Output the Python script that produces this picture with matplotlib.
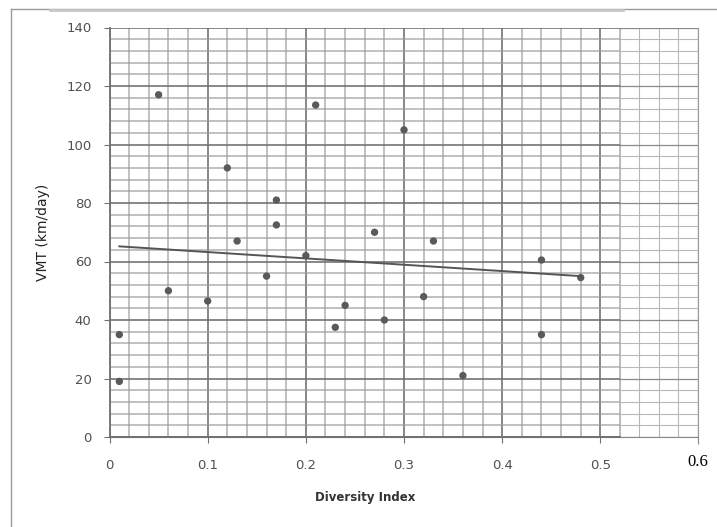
import numpy as np
import matplotlib
matplotlib.use("Agg")
import matplotlib.pyplot as plt
from matplotlib.ticker import MultipleLocator
from matplotlib.lines import Line2D

# diversity index vs VMT
diversity = [0.01, 0.01, 0.05, 0.06, 0.10, 0.12, 0.13, 0.16, 0.17, 0.17,
             0.20, 0.21, 0.23, 0.24, 0.27, 0.28, 0.30, 0.32, 0.33, 0.36,
             0.44, 0.44, 0.48]
vmt = [35, 19, 117, 50, 46.5, 92, 67, 55, 81, 72.5,
       62, 113.5, 37.5, 45, 70, 40, 105, 48, 67, 21,
       60.5, 35, 54.5]
x_ticks = [0, 0.1, 0.2, 0.3, 0.4, 0.5]
x_labels = ["0", "0.1", "0.2", "0.3", "0.4", "0.5"]
y_ticks = [0, 20, 40, 60, 80, 100, 120, 140]

W, H = 717, 527
fig = plt.figure(figsize=(W / 100, H / 100), dpi=100)

def px_box(x0, x1, y_top, y_bot):
    return [x0 / W, 1 - y_bot / H, (x1 - x0) / W, (y_bot - y_top) / H]

# outer frame lines
fig.add_artist(Line2D([11 / W, 11 / W], [0, 1 - 9 / H], color="#9a9a9a", lw=1.0))
fig.add_artist(Line2D([11 / W, 1], [1 - 9 / H, 1 - 9 / H], color="#9a9a9a", lw=1.0))
fig.add_artist(Line2D([50 / W, 623 / W], [1 - 9.5 / H, 1 - 9.5 / H], color="#c8c8c8", lw=2.0))

# background axes: the lighter grid that runs out to 0.6
bg = fig.add_axes(px_box(109.5, 698, 27.5, 437))
bg.set_xlim(0, 0.6)
bg.set_ylim(0, 140)
bg.xaxis.set_major_locator(MultipleLocator(0.1))
bg.xaxis.set_minor_locator(MultipleLocator(0.02))
bg.yaxis.set_major_locator(MultipleLocator(20))
bg.yaxis.set_minor_locator(MultipleLocator(4))
bg.grid(which="major", color="#8a8a8a", lw=0.9)
bg.grid(which="minor", color="#b8b8b8", lw=0.8)
for s in ("left", "top"):
    bg.spines[s].set_visible(False)
bg.spines["right"].set_color("#9a9a9a")
bg.spines["bottom"].set_color("#8a8a8a")
bg.set_xticks([0.6])
bg.set_xticklabels(["0.6"], family="Liberation Serif", fontsize=12)
bg.tick_params(axis="y", which="both", length=0, labelleft=False)
bg.tick_params(axis="x", which="major", length=5, color="#8a8a8a", pad=7)
bg.tick_params(axis="x", which="minor", length=0)

# main (scanned) chart area
ax = fig.add_axes(px_box(109.5, 620, 27.5, 437))
ax.set_facecolor("white")
ax.set_xlim(0, 0.52)
ax.set_ylim(0, 140)
ax.xaxis.set_minor_locator(MultipleLocator(0.02))
ax.yaxis.set_minor_locator(MultipleLocator(4))
ax.set_xticks(x_ticks)
ax.set_xticklabels(x_labels)
ax.set_yticks(y_ticks)
ax.grid(which="major", color="#707070", lw=1.3, alpha=0.9)
ax.grid(which="minor", color="#9c9c9c", lw=1.1, alpha=0.8)
ax.set_axisbelow(True)
for s in ("top", "right"):
    ax.spines[s].set_visible(False)
ax.spines["left"].set_color("#707070")
ax.spines["bottom"].set_color("#707070")
ax.spines["left"].set_linewidth(1.3)
ax.spines["bottom"].set_linewidth(1.3)
ax.tick_params(axis="both", which="major", length=4, color="#707070",
               labelsize=9.5, labelcolor="#505050")
ax.tick_params(axis="x", which="major", pad=12)
ax.tick_params(axis="y", which="major", pad=9)
ax.tick_params(which="minor", length=0)

ax.scatter(diversity, vmt, s=28, color="#5a5a5a", zorder=3, edgecolors="none")

# linear trend line over the data range
slope, icept = np.polyfit(diversity, vmt, 1)
xs = np.array([min(diversity), max(diversity)])
ax.plot(xs, slope * xs + icept, color="#555555", lw=1.4, zorder=3)

fig.text(365 / W, 1 - 497 / H, "Diversity Index", ha="center", va="center",
         fontsize=8.5, fontweight="bold", color="#333333")
fig.text(43 / W, 1 - 232 / H, "VMT (km/day)", ha="center", va="center",
         rotation=90, fontsize=10, color="#222222")

fig.savefig("out.png", dpi=100)
